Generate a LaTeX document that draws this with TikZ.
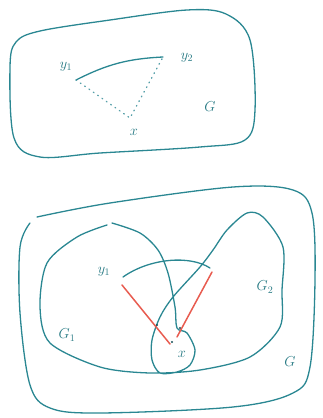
\documentclass[tikz,border=0pt]{standalone}
\usepackage{xcolor}
\usepackage{amsmath,amssymb}
\usepackage{tikz}
\usetikzlibrary{positioning}

\definecolor{inkteal}{RGB}{42,135,146}
\definecolor{inkred}{RGB}{232,92,80}

\begin{document}
\begin{tikzpicture}[
  x=1pt, y=-1pt,
  ink/.style={draw=inkteal, line width=1.3pt, line cap=round, line join=round},
  redpen/.style={draw=inkred, line width=1.5pt, line cap=round},
  dots/.style={draw=inkteal!80, line width=1.3pt, dash pattern=on 0.8pt off 4.5pt, line cap=round},
  lbl/.style={text=inkteal!90!black, font=\Large, inner sep=1pt},
  pt/.style={circle, fill=inkteal!60!black, inner sep=0pt, minimum size=2.4pt}
]
  \useasboundingbox (0,0) rectangle (322,418);

  % top graph G
  \draw[ink] plot[smooth cycle, tension=0.55] coordinates {
    (10,67) (16,42) (40,31) (110,20) (187,10) (226,14) (250,40)
    (255,110) (245,140) (200,147) (100,153) (40,157) (14,138)};
  \node[lbl] (ty1) at (66,67) {$y_1$};
  \node[lbl] (ty2) at (187,58) {$y_2$};
  \node[lbl] (tx)  at (134,132) {$x$};
  \node[lbl] (tG)  at (210,107) {$G$};
  \coordinate (p1) at (76,80);
  \coordinate (p2) at (163,57);
  \coordinate (px) at (130,118);
  \draw[ink] (p1) to[bend left=12] (p2);
  \draw[dots] (p1) -- (px) -- (p2);

  % bottom graph G with G1, G2
  \draw[ink] plot[smooth, tension=0.55] coordinates {
    (37,217) (110,203) (233,187) (293,190) (312,213) (315,280)
    (310,367) (293,393) (233,407) (100,413) (50,408) (30,385)
    (20,313) (20,247) (30,223)};
  \draw[ink] plot[smooth, tension=0.5] coordinates {
    (112,223) (140,233) (158,250) (168,273) (175,307) (177,328)
    (187,333) (195,350) (190,365) (177,372) (160,373) (152,360)
    (152,340) (160,317) (173,297) (200,267) (213,250) (227,230)
    (247,213) (263,217) (283,247) (282,290) (280,327) (250,357)
    (200,370) (150,373) (100,367) (50,343) (40,307) (47,263)
    (77,237) (107,225)};
  \node[lbl] (by1) at (104,272) {$y_1$};
  \node[lbl] (bx)  at (182,354) {$x$};
  \node[lbl] (bG1) at (67,335) {$G_1$};
  \node[lbl] (bG2) at (265,287) {$G_2$};
  \node[lbl] (bG)  at (290,362) {$G$};
  \coordinate (q1) at (123,277);
  \coordinate (q2) at (210,268);
  \coordinate (r1) at (122,285);
  \coordinate (r2) at (212,272);
  \coordinate (r3) at (177,337);
  \node[pt] (qx) at (172,342) {};
  \draw[ink] (q1) .. controls (150,258) and (190,255) .. (q2);
  \draw[redpen] (r1) -- ([xshift=-2pt,yshift=-2pt]qx.center);
  \draw[redpen] (r2) -- (r3);
  \node[pt] (c1) at (157,325) {};
  \node[pt] (c2) at (180,328) {};
\end{tikzpicture}
\end{document}
